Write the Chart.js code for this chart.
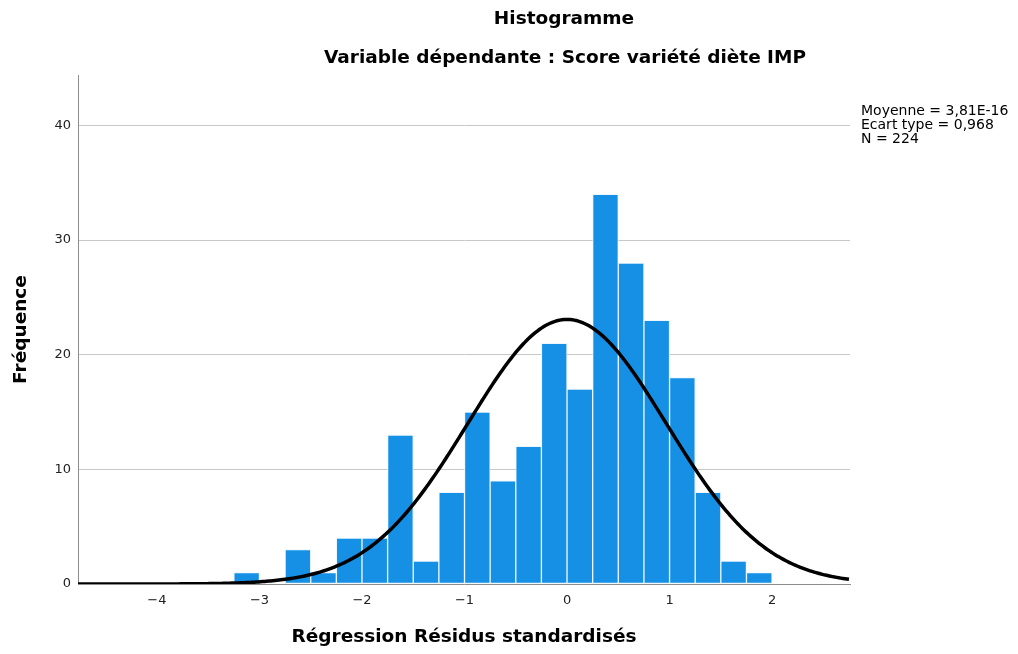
<!DOCTYPE html>
<html>
<head>
<meta charset="utf-8">
<script src="https://cdn.jsdelivr.net/npm/chart.js@4/dist/chart.umd.min.js"></script>
<style>
  html, body { margin: 0; padding: 0; background: #ffffff; }
  canvas { display: block; }
</style>
</head>
<body>
<canvas id="histo" width="1018" height="654"></canvas>
<script>
// Histogram bins (centre of each 0.25-wide class) and their counts
const binCenters = [-3.125, -2.875, -2.625, -2.375, -2.125, -1.875, -1.625, -1.375, -1.125, -0.875,
                    -0.625, -0.375, -0.125, 0.125, 0.375, 0.625, 0.875, 1.125, 1.375, 1.625, 1.875];
const frequencies = [1, 0, 3, 1, 4, 4, 13, 2, 8, 15,
                     9, 12, 21, 17, 34, 28, 23, 18, 8, 2, 1];

// Axis ticks
const xTickValues = [-4, -3, -2, -1, 0, 1, 2];
const yTickValues = [0, 10, 20, 30, 40];

// Summary statistics shown beside the plot
const statLines = ['Moyenne = 3,81E-16', 'Ecart type = 0,968', 'N = 224'];
const meanValue = 3.81e-16;
const sdValue = 0.968;
const nValue = 224;
const binWidth = 0.25;

// Axis extents
const xMin = -4.77, xMax = 2.76;
const yMax = 44.4;

// Normal density with the same mean / SD, scaled to counts per bin
const curvePoints = [];
for (let x = xMin; x <= xMax + 1e-9; x += 0.02) {
  const z = (x - meanValue) / sdValue;
  const y = nValue * binWidth * Math.exp(-0.5 * z * z) / (sdValue * Math.sqrt(2 * Math.PI));
  curvePoints.push({ x: x, y: y });
}

const fontFamily = '"DejaVu Sans", "Liberation Sans", sans-serif';
const fmtMinus = v => (v < 0 ? '\u2212' + Math.abs(v) : String(v));

// Titles and statistics block
const headerPlugin = {
  id: 'header',
  afterDraw(chart) {
    const ctx = chart.ctx;
    const area = chart.chartArea;
    ctx.save();
    ctx.fillStyle = '#000000';
    ctx.textAlign = 'center';
    ctx.textBaseline = 'middle';
    ctx.font = 'bold 18.5px ' + fontFamily;
    ctx.fillText('Histogramme', 564, 19);
    ctx.fillText('Variable dépendante : Score variété diète IMP', 565, 58);
    ctx.font = '14px ' + fontFamily;
    ctx.textAlign = 'left';
    statLines.forEach((t, i) => ctx.fillText(t, area.right + 11, 111 + i * 14));
    ctx.restore();
  }
};

new Chart(document.getElementById('histo'), {
  data: {
    datasets: [
      {
        type: 'line',
        data: curvePoints,
        borderColor: '#000000',
        borderWidth: 3.5,
        pointRadius: 0,
        tension: 0,
        fill: false,
        order: 0
      },
      {
        type: 'bar',
        data: binCenters.map((c, i) => ({ x: c, y: frequencies[i] })),
        backgroundColor: '#1590e5',
        borderColor: 'rgba(235,245,253,0.95)',
        borderWidth: 1,
        borderSkipped: false,
        barPercentage: 1,
        categoryPercentage: 1,
        order: 1
      }
    ]
  },
  options: {
    responsive: false,
    animation: false,
    devicePixelRatio: 1,
    layout: { padding: { top: 75, right: 168, left: 0, bottom: 0 } },
    plugins: {
      legend: { display: false },
      tooltip: { enabled: false },
      title: { display: false }
    },
    scales: {
      x: {
        type: 'linear',
        offset: false,
        min: xMin,
        max: xMax,
        afterBuildTicks: s => { s.ticks = xTickValues.map(v => ({ value: v })); },
        afterFit: s => { s.height = 70; },
        grid: { color: 'rgba(0,0,0,0)', drawTicks: false, offset: false },
        border: { display: true, color: '#8c8c8c', width: 1 },
        ticks: {
          padding: 9,
          color: '#222222',
          font: { family: fontFamily, size: 13 },
          maxRotation: 0,
          callback: v => fmtMinus(v)
        },
        title: {
          display: true,
          text: 'Régression Résidus standardisés',
          color: '#000000',
          font: { family: fontFamily, size: 18.5, weight: 'bold' },
          padding: { top: 0, bottom: 6 }
        }
      },
      y: {
        type: 'linear',
        min: 0,
        max: yMax,
        afterBuildTicks: s => { s.ticks = yTickValues.map(v => ({ value: v })); },
        afterFit: s => { s.width = 78; },
        grid: { color: '#c8c8c8', lineWidth: 1, drawTicks: false },
        border: { display: true, color: '#8c8c8c', width: 1 },
        ticks: {
          padding: 7,
          color: '#222222',
          font: { family: fontFamily, size: 13 }
        },
        title: {
          display: true,
          text: 'Fréquence',
          color: '#000000',
          font: { family: fontFamily, size: 18.5, weight: 'bold' },
          padding: { top: 10, bottom: 0 }
        }
      }
    }
  },
  plugins: [headerPlugin]
});
</script>
</body>
</html>
